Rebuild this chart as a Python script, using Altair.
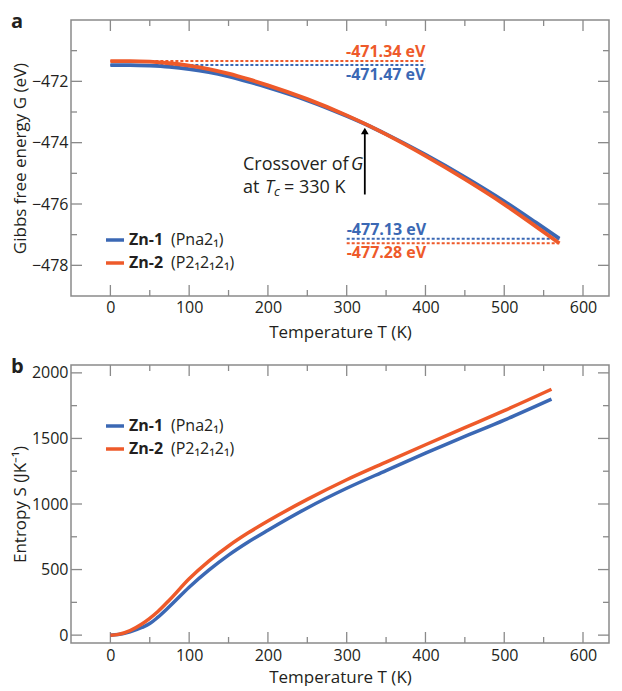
import altair as alt
import pandas as pd

# ---------------- data ----------------
SERIES = ["Zn-1", "Zn-2"]
SPACE_GROUPS = ["(Pna2\u2081)", "(P2\u20812\u20812\u2081)"]
COLORS = ["#3b68b4", "#ee5a2a"]

# panel a: Gibbs free energy (eV)
T_G = [0, 25, 50, 75, 100, 125, 150, 175, 200, 250, 300, 330, 350, 400, 450, 500, 540, 570]
G_ZN1 = [-471.47, -471.47, -471.49, -471.53, -471.60, -471.70, -471.84, -472.01, -472.20,
         -472.62, -473.13, -473.47, -473.72, -474.39, -475.12, -475.91, -476.60, -477.13]
G_ZN2 = [-471.34, -471.34, -471.36, -471.41, -471.49, -471.60, -471.75, -471.93, -472.13,
         -472.58, -473.11, -473.47, -473.73, -474.43, -475.19, -476.01, -476.73, -477.28]

# panel b: entropy (J/K)
T_S = [0, 10, 25, 40, 50, 60, 75, 100, 125, 150, 175, 200, 250, 300, 350, 400, 450, 500, 560]
S_ZN1 = [0, 4, 25, 58, 88, 135, 218, 365, 495, 610, 710, 800, 970, 1120, 1255, 1388, 1515, 1640, 1800]
S_ZN2 = [0, 6, 35, 85, 128, 178, 268, 430, 565, 680, 780, 870, 1035, 1185, 1320, 1452, 1582, 1712, 1875]

# reference (dashed) levels with their labels
REF_VALUES = [-471.34, -471.47, -477.13, -477.28]
REF_SERIES = ["Zn-2", "Zn-1", "Zn-1", "Zn-2"]
REF_START = [0, 0, 300, 300]
REF_END = [400, 400, 570, 570]
REF_LABELS = ["-471.34 eV", "-471.47 eV", "-477.13 eV", "-477.28 eV"]

# crossover arrow
ARROW_T = 323
ARROW_G = [-475.69, -473.62]

# ticks
X_MAJOR = [0, 100, 200, 300, 400, 500, 600]
X_MINOR = [50, 150, 250, 350, 450, 550]
G_MAJOR = [-478, -476, -474, -472]
G_MINOR = [-477, -475, -473, -471]
S_MAJOR = [0, 500, 1000, 1500, 2000]
S_MINOR = [250, 750, 1250, 1750]

# ---------------- styling ----------------
FONT = "Open Sans"
INK = "#231f20"
GRAY = "#8a8a8a"
W = 538
H_A = 276
H_B = 278
X_DOMAIN = [-50, 633]
G_DOMAIN = [-479, -470]
S_DOMAIN = [-60, 2060]

color_scale = alt.Scale(domain=SERIES, range=COLORS)
xs = alt.Scale(domain=X_DOMAIN, nice=False, zero=False)
gs = alt.Scale(domain=G_DOMAIN, nice=False, zero=False)
ss = alt.Scale(domain=S_DOMAIN, nice=False, zero=False)

x_axis_a = alt.Axis(values=X_MAJOR, title="Temperature T (K)", labelPadding=3, titlePadding=9, format="d")
x_axis_b = alt.Axis(values=X_MAJOR, title="Temperature T (K)", labelPadding=4, titlePadding=6, format="d")
g_axis = alt.Axis(values=G_MAJOR, title="Gibbs free energy G (eV)", labelPadding=3, titlePadding=2)
s_axis = alt.Axis(values=S_MAJOR, title="Entropy S (JK\u207b\u00b9)", labelPadding=3, titlePadding=2, format="d")
COL = alt.Color("series:N", scale=color_scale, legend=None)


def long_df(t, a, b, name):
    rows = []
    for s, vals in zip(SERIES, [a, b]):
        for ti, v in zip(t, vals):
            rows.append({"T": ti, name: v, "series": s})
    return pd.DataFrame(rows)


def tick_layers(X, Y, major, minor, H):
    layers = []
    for vals, ln in [(X_MAJOR, 11), (X_MINOR, 6)]:
        d = pd.DataFrame({"t": vals})
        base = alt.Chart(d).mark_rule(color=GRAY, strokeWidth=1.3)
        layers.append(base.encode(x=X("t:Q"), y=alt.value(H), y2=alt.value(H - ln)))
        layers.append(base.encode(x=X("t:Q"), y=alt.value(0), y2=alt.value(ln)))
    for vals, ln in [(major, 11), (minor, 6)]:
        d = pd.DataFrame({"v": vals})
        base = alt.Chart(d).mark_rule(color=GRAY, strokeWidth=1.3)
        layers.append(base.encode(y=Y("v:Q"), x=alt.value(0), x2=alt.value(ln)))
        layers.append(base.encode(y=Y("v:Q"), x=alt.value(W), x2=alt.value(W - ln)))
    return layers


def legend_layers(y0):
    layers = []
    for i, s in enumerate(SERIES):
        y = y0 + 23 * i
        layers.append(alt.Chart(pd.DataFrame({"series": [s]})).mark_rule(strokeWidth=3.5).encode(
            x=alt.value(35), x2=alt.value(53), y=alt.value(y), color=COL))
        layers.append(alt.Chart(pd.DataFrame({"series": [s]})).mark_text(
            align="left", baseline="middle", font=FONT, fontSize=16, fontWeight="bold", color=INK).encode(
            x=alt.value(58), y=alt.value(y), text="series:N"))
        layers.append(alt.Chart(pd.DataFrame({"g": [SPACE_GROUPS[i]]})).mark_text(
            align="left", baseline="middle", font=FONT, fontSize=16, color=INK).encode(
            x=alt.value(100), y=alt.value(y), text="g:N"))
    return layers


def panel_letter(letter):
    return alt.Chart(pd.DataFrame({"l": [letter]})).mark_text(
        align="left", baseline="top", font=FONT, fontSize=20, fontWeight="bold", color=INK).encode(
        x=alt.value(-60), y=alt.value(-8), text="l:N")


# ---------------- panel a ----------------
def XA(field):
    return alt.X(field, scale=xs, axis=x_axis_a)


def YG(field):
    return alt.Y(field, scale=gs, axis=g_axis)


gdf = long_df(T_G, G_ZN1, G_ZN2, "G")
ref = pd.DataFrame({"value": REF_VALUES, "series": REF_SERIES, "start": REF_START,
                    "end": REF_END, "label": REF_LABELS})

dashed = alt.Chart(ref).mark_rule(strokeDash=[3, 2], strokeWidth=2).encode(
    x=XA("start:Q"), x2="end:Q", y=YG("value:Q"), color=COL)

curves_a = alt.Chart(gdf).mark_line(strokeWidth=3.8, interpolate="monotone").encode(
    x=XA("T:Q"), y=YG("G:Q"), color=COL)

ref_text = []
for i in range(len(REF_VALUES)):
    one = ref.iloc[[i]]
    above = (i == 0) or (i == 2)
    align = "right" if i < 2 else "left"
    xfield = "end:Q" if i < 2 else "start:Q"
    ref_text.append(alt.Chart(one).mark_text(
        align=align, baseline="bottom" if above else "top", dy=-1 if above else 2,
        font=FONT, fontSize=16, fontWeight="bold").encode(
        x=XA(xfield), y=YG("value:Q"), text="label:N", color=COL))

arrow_df = pd.DataFrame({"T": [ARROW_T, ARROW_T], "G": ARROW_G})
arrow_line = alt.Chart(arrow_df).mark_line(color="black", strokeWidth=1.8).encode(
    x=XA("T:Q"), y=YG("G:Q"))
arrow_head = alt.Chart(arrow_df.iloc[[1]]).mark_point(
    shape="triangle-up", filled=True, color="black", size=60, opacity=1).encode(
    x=XA("T:Q"), y=YG("G:Q"))

ANN = [
    ("Crossover of", 172, 150, 18, "normal", 0),
    ("G", 280, 150, 18, "italic", 0),
    ("at", 172, 173, 18, "normal", 0),
    ("T", 194, 173, 18, "italic", 0),
    ("c", 203, 173, 13, "italic", 3),
    ("= 330 K", 213, 173, 18, "normal", 0),
]
ann_layers = []
for txt, px, py, fs, style, dy in ANN:
    ann_layers.append(alt.Chart(pd.DataFrame({"t": [txt]})).mark_text(
        align="left", baseline="alphabetic", font=FONT, fontSize=fs, fontStyle=style, color=INK, dy=dy).encode(
        x=alt.value(px), y=alt.value(py), text="t:N"))

panel_a = alt.layer(
    *tick_layers(XA, YG, G_MAJOR, G_MINOR, H_A),
    dashed, curves_a, *ref_text, arrow_line, arrow_head, *ann_layers,
    *legend_layers(220), panel_letter("a"),
).properties(width=W, height=H_A)


# ---------------- panel b ----------------
def XB(field):
    return alt.X(field, scale=xs, axis=x_axis_b)


def YS(field):
    return alt.Y(field, scale=ss, axis=s_axis)


sdf = long_df(T_S, S_ZN1, S_ZN2, "S")
curves_b = alt.Chart(sdf).mark_line(strokeWidth=3.5, interpolate="monotone").encode(
    x=XB("T:Q"), y=YS("S:Q"), color=COL)

panel_b = alt.layer(
    *tick_layers(XB, YS, S_MAJOR, S_MINOR, H_B),
    curves_b, *legend_layers(61), panel_letter("b"),
).properties(width=W, height=H_B)

chart = alt.vconcat(panel_a, panel_b, spacing=15).properties(
    padding={"left": 2, "top": 3, "right": 0, "bottom": 0}
).configure_view(stroke=GRAY, strokeWidth=1.5).configure_axis(
    labelFont=FONT, titleFont=FONT, labelFontSize=16, titleFontSize=17, titleFontWeight="normal",
    labelColor=INK, titleColor=INK, grid=False, ticks=False, domain=False,
)

chart.save("out.html", embed_options={"renderer": "svg", "actions": False})
